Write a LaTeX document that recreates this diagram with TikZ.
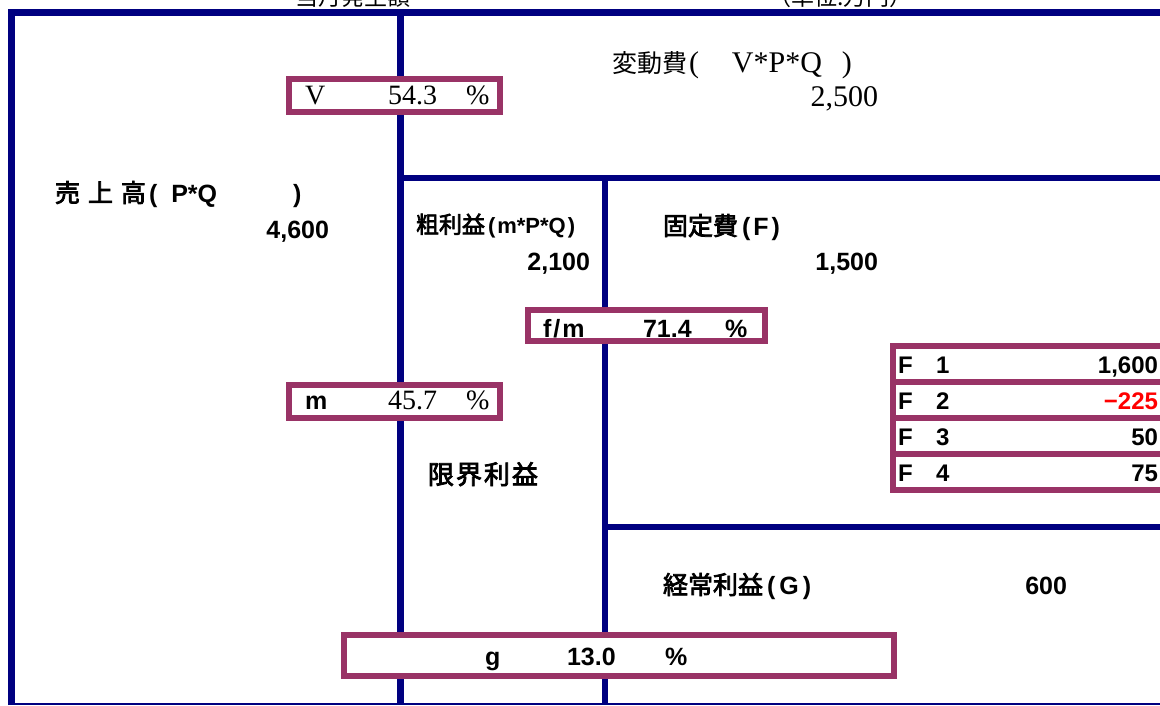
\documentclass[tikz,border=0pt]{standalone}
\usepackage{fontspec}
\setmainfont{Liberation Serif}
\setsansfont{Liberation Sans}
\newfontfamily\jpfont{Noto Sans CJK JP}
\newfontfamily\jpbfont{Noto Sans CJK JP}[FakeBold=3]
\definecolor{navyc}{HTML}{000080}
\definecolor{plumc}{HTML}{993366}
\definecolor{redc}{HTML}{FF0000}
\newcommand\fsz[1]{\fontsize{#1}{#1}\selectfont}
\begin{document}
\begin{tikzpicture}[x=1pt,y=-1pt,
  frameA/.style={draw=navyc,line width=7pt},
  frameB/.style={draw=navyc,line width=6pt},
  pbox/.style={draw=plumc,line width=6pt,fill=white,inner sep=0pt,outer sep=0pt},
  lw/.style={inner sep=0pt,outer sep=0pt,anchor=base west},
  le/.style={inner sep=0pt,outer sep=0pt,anchor=base east},
  sb/.style={font=\sffamily\bfseries\fsz{25}},
  sbs/.style={font=\sffamily\bfseries\fsz{24}},
  sr/.style={font=\rmfamily\fsz{28}},
  jb/.style={font=\jpbfont\fsz{25}},
]
\useasboundingbox (0,0) rectangle (1160,705);
\clip (0,0) rectangle (1160,705);
% partially visible header texts
\begin{scope}
\clip (0,0) rectangle (1160,9);
\node[lw,font=\jpfont\fsz{23}] (hdrA) at (295,5.5) {当月発生額};
\node[lw,font=\jpfont\fsz{23}] (hdrB) at (768,5.5) {（単位:万円）};
\end{scope}
% frame lines
\draw[frameA,line join=miter] (11,705) -- (11,12) -- (1160,12);
\draw[frameA] (400,12) -- (400,705);
\draw[frameB] (400,178) -- (1160,178);
\draw[frameB] (605,178) -- (605,705);
\draw[frameB] (605,527) -- (1160,527);
\draw[draw=navyc,line width=2pt] (11,704) -- (1160,704);
% boxes
\node[pbox,minimum width=211pt,minimum height=33pt] (vbox) at (394.5,95.5) {};
\node[pbox,minimum width=211pt,minimum height=33pt] (mbox) at (394.5,401.5) {};
\node[pbox,minimum width=237pt,minimum height=31pt] (fmbox) at (646.5,325) {};
\node[pbox,minimum width=550pt,minimum height=41pt] (gbox) at (619,655.5) {};
\node[pbox,minimum width=273pt,minimum height=36pt] (fA) at (1029.5,364) {};
\node[pbox,minimum width=273pt,minimum height=36pt] (fB) at (1029.5,400) {};
\node[pbox,minimum width=273pt,minimum height=36pt] (fC) at (1029.5,436) {};
\node[pbox,minimum width=273pt,minimum height=36pt] (fD) at (1029.5,472) {};
% box texts
\node[lw,sr] (vL) at (305,104) {V};
\node[lw,sr] (vN) at (388,104) {54.3};
\node[lw,sr] (vP) at (466,104) {\%};
\node[lw,sb] (mL) at (305,409) {m};
\node[lw,sr] (mN) at (388,409) {45.7};
\node[lw,sr] (mP) at (466,409) {\%};
\node[lw,sb] (fmL) at (543,337) {f\hspace{2pt}/\hspace{2pt}m};
\node[lw,sb] (fmN) at (643,337) {71.4};
\node[lw,sb] (fmP) at (725,337) {\%};
\node[lw,sb] (gL) at (485,665) {g};
\node[lw,sb] (gN) at (567,665) {13.0};
\node[lw,sb] (gP) at (665,665) {\%};
\node[lw,sbs] (fAL) at (898,373) {F};
\node[lw,sbs] (fAn) at (936,373) {1};
\node[le,sbs] (fAv) at (1158,373) {1,600};
\node[lw,sbs] (fBL) at (898,409) {F};
\node[lw,sbs] (fBn) at (936,409) {2};
\node[le,sbs,text=redc] (fBv) at (1158,409) {\textminus225};
\node[lw,sbs] (fCL) at (898,445) {F};
\node[lw,sbs] (fCn) at (936,445) {3};
\node[le,sbs] (fCv) at (1158,445) {50};
\node[lw,sbs] (fDL) at (898,481) {F};
\node[lw,sbs] (fDn) at (936,481) {4};
\node[le,sbs] (fDv) at (1158,481) {75};
% main labels
\node[lw,font=\jpfont\fsz{25}] (henT) at (612,72) {変動費{\rmfamily\fsz{30}\hspace{2pt}(\hspace{33pt}V*P*Q\hspace{20pt})}};
\node[le,font=\rmfamily\fsz{30}] (henV) at (878,106) {2,500};
\node[lw,jb] (uriT) at (55,202) {売\hspace{8pt}上\hspace{8pt}高{\sffamily\bfseries\fsz{25}\hspace{3pt}(\hspace{14pt}P*Q\hspace{76pt})}};
\node[le,sb] (uriV) at (329,238) {4,600};
\node[lw,font=\jpbfont\fsz{23}] (araT) at (416,233) {粗利益{\sffamily\bfseries\fsz{22}\hspace{3pt}(\hspace{2pt}m*P*Q\hspace{2pt})}};
\node[le,sb] (araV) at (590,270) {2,100};
\node[lw,jb] (koT) at (663,235) {固定費{\sffamily\bfseries\fsz{25}\hspace{4pt}(\hspace{3pt}F\hspace{3pt})}};
\node[le,sb] (koV) at (878,270) {1,500};
\node[lw,font=\jpbfont\fsz{26}] (genT) at (428,484) {限\hspace{2pt}界\hspace{2pt}利\hspace{2pt}益};
\node[lw,jb] (keiT) at (663,594) {経常利益{\sffamily\bfseries\fsz{25}\hspace{4pt}(\hspace{4pt}G\hspace{4pt})}};
\node[le,sb] (keiV) at (1067,594) {600};
\end{tikzpicture}
\end{document}
